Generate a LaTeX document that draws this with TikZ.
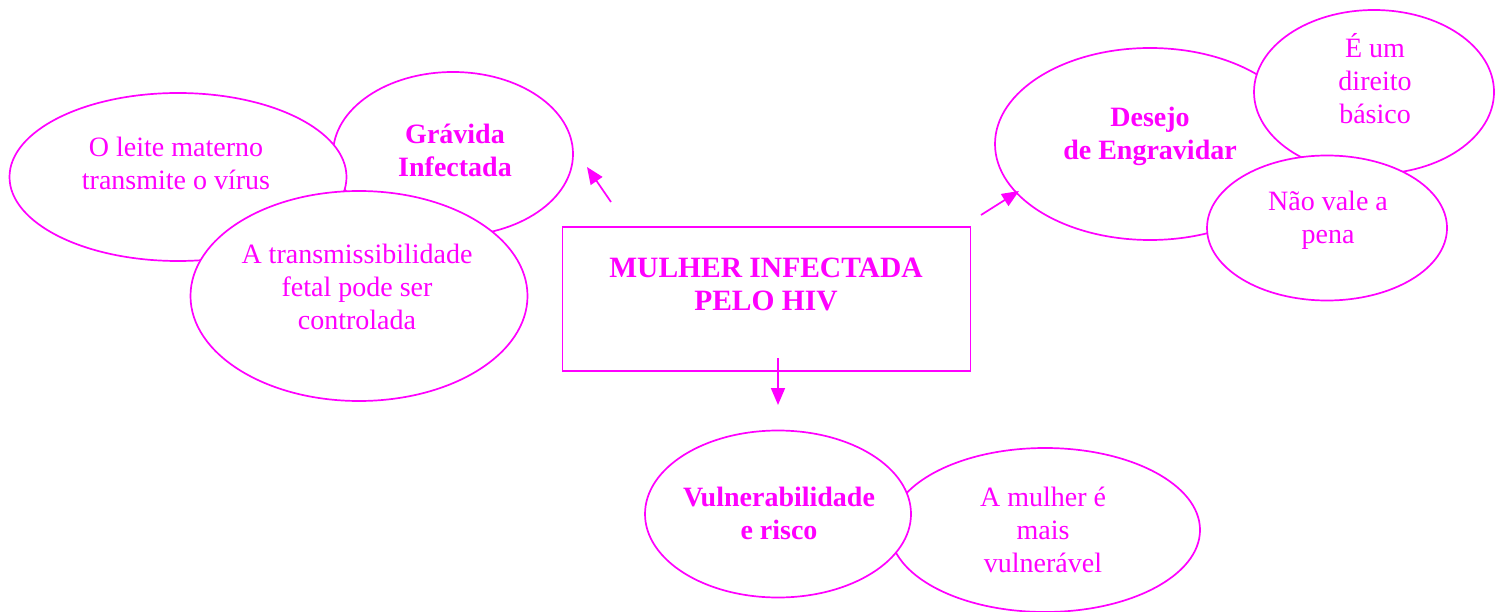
\documentclass[tikz,border=0pt]{standalone}
\usepackage{fontspec}
\setmainfont{Liberation Serif}
\usetikzlibrary{shapes.geometric,arrows.meta}
\definecolor{mag}{RGB}{255,0,255}
\tikzset{
  bubble/.style={ellipse, draw=mag, line width=1.7pt, fill=white, inner sep=0pt},
  txt/.style={align=center, inner sep=0pt, text=mag, font=\fontsize{28}{33}\selectfont},
  btxt/.style={txt, font=\fontsize{28}{33}\selectfont\bfseries},
  conn/.style={draw=mag, line width=1.7pt, -{Triangle[length=17pt,width=14pt]}},
}
\begin{document}
\begin{tikzpicture}[x=1pt,y=-1pt]
\useasboundingbox (0,0) rectangle (1503,612);
% left group
\node[bubble, minimum width=240pt, minimum height=164pt] (grav) at (453,154) {};
\node[btxt] (gravt) at (455,150) {Grávida\\Infectada};
\node[bubble, minimum width=337pt, minimum height=168pt] (leite) at (178,177) {};
\node[txt] (leitet) at (176,163) {O leite materno\\transmite o vírus};
\node[bubble, minimum width=337pt, minimum height=210pt] (trans) at (359,296) {};
\node[txt] (transt) at (357,287) {A transmissibilidade\\fetal pode ser\\controlada};
% right group
\node[bubble, minimum width=310pt, minimum height=192pt] (desejo) at (1150,144) {};
\node[btxt] (desejot) at (1150,136) {Desejo\\de Engravidar};
\node[bubble, minimum width=240pt, minimum height=164pt] (dir) at (1374,92) {};
\node[txt] (dirt) at (1375,79) {É um\\direito\\básico};
\node[bubble, minimum width=240pt, minimum height=145pt] (nao) at (1327,228) {};
\node[txt] (naot) at (1328,220) {Não vale a\\pena};
% bottom group
\node[bubble, minimum width=310pt, minimum height=164pt] (mulher) at (1045,530) {};
\node[txt] (mulhert) at (1043,530) {A mulher é\\mais\\vulnerável};
\node[bubble, minimum width=266pt, minimum height=167pt] (vuln) at (778,514) {};
\node[btxt] (vulnt) at (779,513) {Vulnerabilidade\\e risco};
% central box
\node[draw=mag, line width=1.7pt, minimum width=408pt, minimum height=144pt, inner sep=0pt] (box) at (766.5,299) {};
\node[btxt, font=\fontsize{29.5}{33}\selectfont\bfseries] (boxt) at (766,284) {MULHER INFECTADA\\PELO HIV};
% arrows
\coordinate (a1s) at (611,202);
\coordinate (a1e) at (587,167);
\coordinate (a2s) at (981,215);
\coordinate (a2e) at (1019,191);
\coordinate (a3s) at (778,358);
\coordinate (a3e) at (778,405);
\draw[conn] (a1s) -- (a1e);
\draw[conn] (a2s) -- (a2e);
\draw[conn] (a3s) -- (a3e);
\end{tikzpicture}
\end{document}
